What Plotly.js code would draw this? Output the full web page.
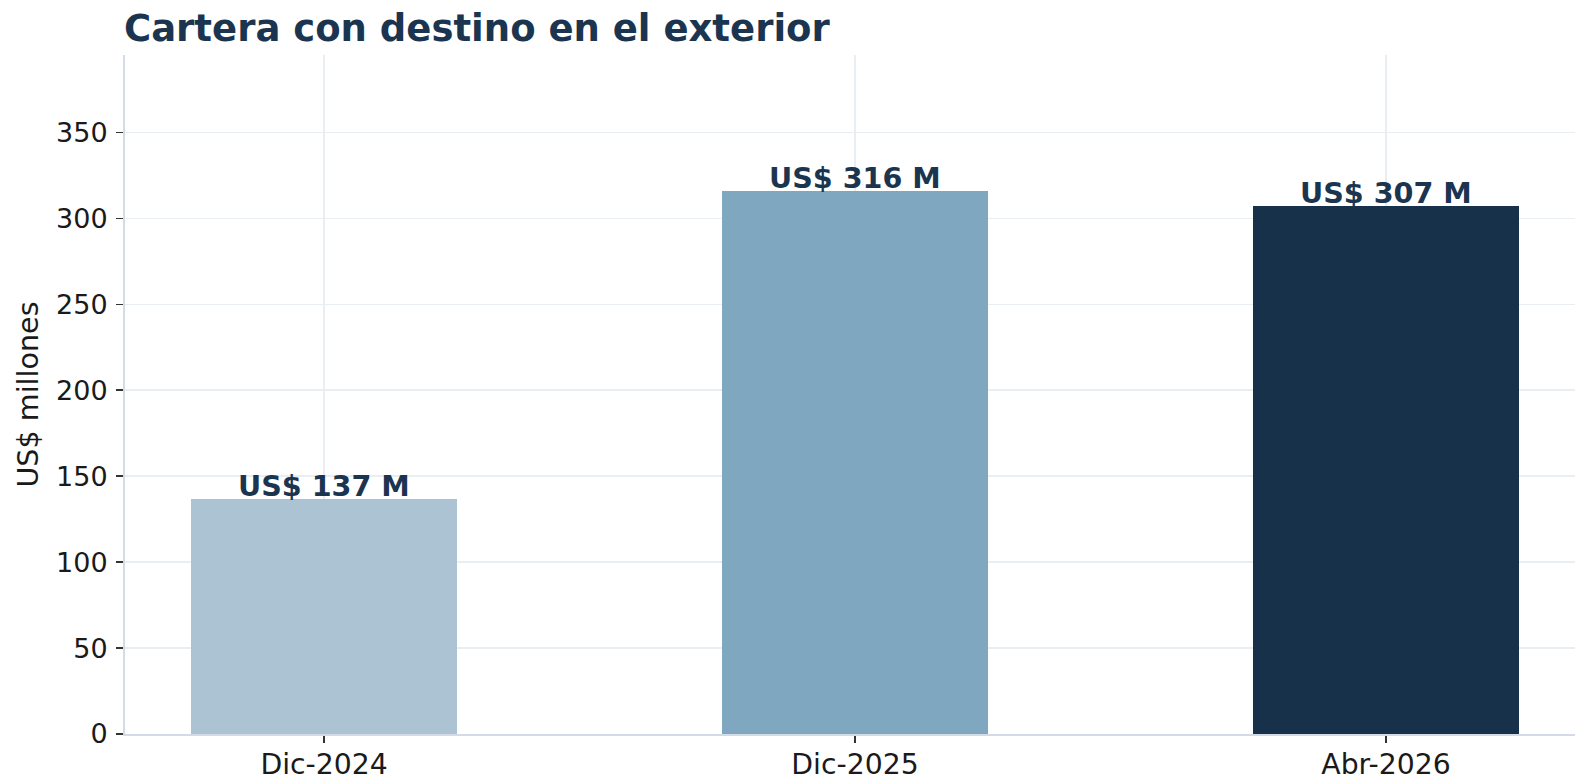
<!DOCTYPE html>
<html>
<head>
<meta charset="utf-8">
<script src="https://cdn.plot.ly/plotly-3.0.1.min.js"></script>
<style>html,body{margin:0;padding:0;background:#fff;overflow:hidden}#chart{width:1575px;height:776px}</style>
</head>
<body>
<div id="chart"></div>
<script>
const categories = ["Dic-2024", "Dic-2025", "Abr-2026"];
const values = [137, 316, 307];
const barColors = ["#abc3d3", "#7fa7c0", "#18314b"];
const labels = ["US$ 137 M", "US$ 316 M", "US$ 307 M"];
const yTicks = [0, 50, 100, 150, 200, 250, 300, 350];

const navy = "#1b3550";
const font = "DejaVu Sans, Verdana, sans-serif";

const trace = {
  type: "bar",
  x: [0, 1, 2],
  y: values,
  width: 0.5,
  marker: {color: barColors, line: {width: 0}},
  hoverinfo: "skip"
};

const annotations = values.map((v, i) => ({
  x: i, y: v, xref: "x", yref: "y",
  text: "<b>" + labels[i] + "</b>",
  showarrow: false, xanchor: "center", yanchor: "bottom", yshift: -6,
  font: {family: font, size: 28.6, color: navy}
}));

const layout = {
  width: 1575, height: 776,
  margin: {l: 125, r: 0, t: 55, b: 42, pad: 0},
  paper_bgcolor: "#fff", plot_bgcolor: "#fff",
  showlegend: false,
  title: {
    text: "<b>Cartera con destino en el exterior</b>",
    font: {family: font, size: 37, color: navy},
    x: 124/1575, xref: "container", xanchor: "left",
    y: 1 - 28/776, yref: "container", yanchor: "middle"
  },
  xaxis: {
    range: [-0.375, 2.356],
    tickmode: "array", tickvals: [0, 1, 2], ticktext: categories,
    showgrid: true, gridcolor: "#e9eef3", gridwidth: 1.5,
    zeroline: false,
    showline: true, linecolor: "#d3dce6", linewidth: 2,
    ticks: "outside", ticklen: 7, tickwidth: 1.5, tickcolor: "#333",
    ticklabelstandoff: -3,
    tickfont: {family: font, size: 28.3, color: "#1a1a1a"},
    automargin: false, fixedrange: true
  },
  yaxis: {
    range: [0, 395],
    tickmode: "array", tickvals: yTicks, ticktext: yTicks.map(String),
    showgrid: true, gridcolor: "#e9eef3", gridwidth: 1.5,
    zeroline: false,
    showline: true, linecolor: "#d3dce6", linewidth: 2,
    ticks: "outside", ticklen: 7, tickwidth: 1.5, tickcolor: "#333",
    ticklabelstandoff: 3,
    tickfont: {family: font, size: 27, color: "#1a1a1a"},
    title: {text: "US$ millones", font: {family: font, size: 28.6, color: "#1a1a1a"}, standoff: 9},
    automargin: false, fixedrange: true
  },
  annotations: annotations,
  bargap: 0
};

Plotly.newPlot("chart", [trace], layout, {displayModeBar: false, staticPlot: true});
</script>
</body>
</html>
